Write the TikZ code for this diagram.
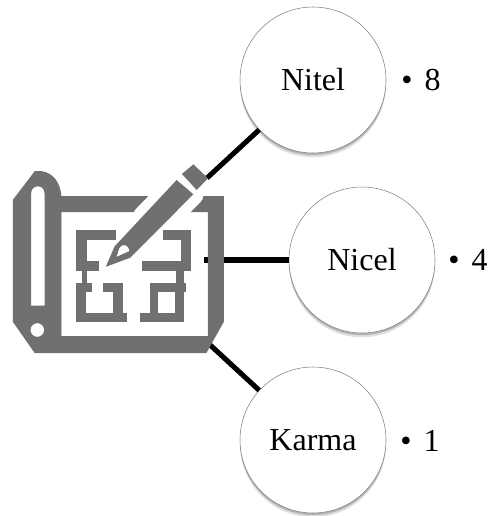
\documentclass[tikz,border=0pt]{standalone}
\usepackage{fontspec}
\setmainfont{Liberation Serif}
\usetikzlibrary{shadows}
\definecolor{icongray}{HTML}{707070}
\tikzset{
  levelnode/.style={circle,draw=gray,fill=white,thin,minimum size=109.5pt,inner sep=0pt,
    font=\fontsize{24}{28}\selectfont,
    drop shadow={shadow xshift=0pt,shadow yshift=-3.2pt,fill=black,opacity=0.12},
    drop shadow={shadow xshift=0pt,shadow yshift=-1.6pt,fill=black,opacity=0.2}},
  countlabel/.style={inner sep=0pt,font=\fontsize{24}{28}\selectfont},
  connector/.style={line width=3.8pt,black},
  iconpart/.style={fill=icongray,draw=icongray,line width=0.7pt}
}
\begin{document}
\begin{tikzpicture}[x=0.75pt,y=-0.75pt]
  \useasboundingbox (0,0) rectangle (489,516);
  % the three levels
  \node[levelnode] (nitel) at (313,80) {Nitel};
  \node[levelnode] (nicel) at (362,260) {Nicel};
  \node[levelnode] (karma) at (313,440) {Karma};
  \node[countlabel] (nitelcount) at (421,80) {\textbullet\hspace{.38em}8};
  \node[countlabel] (nicelcount) at (468,260) {\textbullet\hspace{.38em}4};
  \node[countlabel] (karmacount) at (420,441) {\textbullet\hspace{.38em}1};
  % connectors, the icon goes over their ends
  \coordinate (pencilend) at (207,178);
  \coordinate (planend) at (204,260);
  \coordinate (cornerend) at (208,343);
  \draw[connector] (nitel) -- (pencilend);
  \draw[connector] (nicel) -- (planend);
  \draw[connector] (karma) -- (cornerend);
  % icon, in 3x pixels
  \begin{scope}[shift={(0,150)},x=0.25pt,y=-0.25pt]
    \path[iconpart,even odd rule]
      (40,150) -- (105,65) -- (125,65) .. controls (160,70) and (180,100) .. (183,140)
      -- (670,140) -- (670,515) -- (618,608) -- (105,608) -- (40,515) -- cycle
      (183,185) rectangle (625,560)
      (92,468) -- (92,130) .. controls (92,100) and (135,100) .. (135,130) -- (135,468) -- cycle
      (112,540) circle [radius=22];
    % gap round the pencil
    \draw[white,line width=16pt,line join=round] (430,200) -- (530,97) -- (578,135) -- (480,232) -- cycle;
    % floor plan, left half
    \path[iconpart] (228,240) rectangle (345,267);
    \path[iconpart] (228,240) rectangle (258,360);
    \path[iconpart] (228,335) rectangle (295,360);
    \path[iconpart] (248,360) rectangle (258,400);
    \path[iconpart] (228,400) rectangle (275,425);
    \path[iconpart] (228,400) rectangle (255,515);
    \path[iconpart] (228,490) rectangle (378,515);
    \path[iconpart] (340,400) rectangle (367,490);
    \path[iconpart] (310,400) rectangle (367,425);
    % floor plan, right half
    \path[iconpart] (490,240) rectangle (572,267);
    \path[iconpart] (545,240) rectangle (572,360);
    \path[iconpart] (428,335) rectangle (572,360);
    \path[iconpart] (530,360) rectangle (550,400);
    \path[iconpart] (450,400) rectangle (555,425);
    \path[iconpart] (525,400) rectangle (550,515);
    \path[iconpart] (422,490) rectangle (550,515);
    \path[iconpart] (450,400) rectangle (472,490);
    % pencil
    \path[iconpart] (345,290) -- (530,92) -- (578,133) -- (390,322) -- (320,348) -- cycle;
    \path[iconpart] (548,72) -- (580,45) -- (622,85) -- (590,118) -- cycle;
    \fill[white] (350,320) -- (358,295) .. controls (365,280) and (385,282) .. (388,303) -- cycle;
  \end{scope}
\end{tikzpicture}
\end{document}
